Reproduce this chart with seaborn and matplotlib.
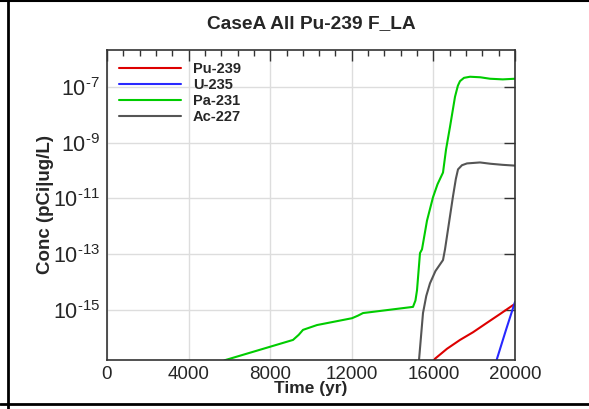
import pandas as pd
import matplotlib
matplotlib.use("Agg")
import matplotlib.pyplot as plt
import seaborn as sns
from matplotlib.ticker import MultipleLocator, FixedLocator, FixedFormatter, NullLocator

sns.set_style("white")
plt.rcParams['font.family'] = ['Liberation Sans', 'DejaVu Sans']
plt.rcParams['mathtext.fontset'] = 'custom'
plt.rcParams['mathtext.rm'] = 'Liberation Sans'
plt.rcParams['mathtext.it'] = 'Liberation Sans'
plt.rcParams['axes.unicode_minus'] = False

# values (time in yr, concentration)
pu239_t = [15900, 16078, 16667, 17304, 17941, 18627, 19265, 19902, 20000]
pu239_c = [1.1e-17, 1.8e-17, 4.1e-17, 8.5e-17, 1.6e-16, 3.5e-16, 7.2e-16, 1.5e-15, 1.6e-15]

u235_t = [19050, 19118, 19559, 20000]
u235_c = [1.1e-17, 1.8e-17, 1.95e-16, 1.95e-15]

pa231_t = [5500, 5784, 9118, 9400, 9608, 10294, 12010, 12300, 12549, 15000, 15120, 15196,
           15343, 15441, 15686, 15980, 16200, 16471, 16618, 16814, 17059, 17200, 17304,
           17500, 17794, 18300, 18775, 19400, 20000]
pa231_c = [1.2e-17, 1.6e-17, 8.5e-17, 1.3e-16, 1.95e-16, 2.9e-16, 5.1e-16, 6.3e-16, 7.8e-16,
           1.3e-15, 2.2e-15, 5.1e-15, 1.1e-13, 1.5e-13, 1.6e-12, 1.1e-11, 3.2e-11, 8.5e-11,
           5.6e-10, 3.7e-09, 4.4e-08, 1.1e-07, 1.6e-07, 2.1e-07, 2.3e-07, 2.2e-07,
           1.95e-07, 1.85e-07, 1.95e-07]

ac227_t = [15200, 15294, 15490, 15650, 15833, 16100, 16471, 16569, 16961, 17100, 17206,
           17400, 17647, 18284, 18800, 19400, 20000]
ac227_c = [1.0e-17, 1.6e-17, 7.8e-16, 3.2e-15, 9.1e-15, 2.5e-14, 6.2e-14, 1.5e-13, 1.2e-11,
           5.0e-11, 1.1e-10, 1.55e-10, 1.8e-10, 1.95e-10, 1.75e-10, 1.6e-10, 1.5e-10]

ytick_vals = [1e-15, 1e-13, 1e-11, 1e-9, 1e-7]
ytick_labels = [r'$\mathdefault{10^{\text{-15}}}$', r'$\mathdefault{10^{\text{-13}}}$',
                r'$\mathdefault{10^{\text{-11}}}$', r'$\mathdefault{10^{\text{-9}}}$',
                r'$\mathdefault{10^{\text{-7}}}$']

series = {'Pu-239': (pu239_t, pu239_c), 'U-235': (u235_t, u235_c),
          'Pa-231': (pa231_t, pa231_c), 'Ac-227': (ac227_t, ac227_c)}
frames = [pd.DataFrame({'Time': t, 'Conc': c, 'Nuclide': k}) for k, (t, c) in series.items()]
df = pd.concat(frames, ignore_index=True)

palette = {'Pu-239': '#dd0000', 'U-235': '#2828ff', 'Pa-231': '#00cc00', 'Ac-227': '#555555'}

fig = plt.figure(figsize=(5.89, 4.09), dpi=100)
ax = fig.add_axes([107 / 589, 1 - 360 / 409, 408 / 589, 310 / 409])
sns.lineplot(data=df, x='Time', y='Conc', hue='Nuclide', palette=palette,
             linewidth=1.5, sort=False, estimator=None, ax=ax)

ax.set_yscale('log')
ax.set_xlim(0, 20000)
ax.set_ylim(10 ** -16.79, 10 ** -5.68)
ax.xaxis.set_major_locator(MultipleLocator(4000))
ax.xaxis.set_minor_locator(MultipleLocator(800))
ax.yaxis.set_major_locator(FixedLocator(ytick_vals))
ax.yaxis.set_major_formatter(FixedFormatter(ytick_labels))
ax.yaxis.set_minor_locator(NullLocator())
ax.tick_params(axis='both', which='both', direction='in', top=True, right=True,
               color='#333333')
ax.tick_params(axis='x', which='major', length=8, width=1, labelsize=13.5, pad=4)
ax.tick_params(axis='x', which='minor', length=4, width=1)
ax.tick_params(axis='y', which='major', length=8, width=1, labelsize=15.5, pad=5)
ax.grid(True, which='major', color='#dddddd', linewidth=1)
for s in ax.spines.values():
    s.set_color('#333333')
    s.set_linewidth(1.2)

ax.set_title('CaseA All Pu-239 F_LA', fontsize=13.8, fontweight='bold', pad=16)
ax.set_xlabel('Time (yr)', fontsize=12.5, fontweight='bold', labelpad=-1)
ax.set_ylabel('Conc (pCi|ug/L)', fontsize=13.5, fontweight='bold', labelpad=-1)

leg = ax.legend(loc='upper left', frameon=False, prop={'weight': 'bold', 'size': 10.5},
                handlelength=4.3, handletextpad=0.8, labelspacing=0.15,
                borderaxespad=0.4, bbox_to_anchor=(0.0, 1.0))
for line in leg.get_lines():
    line.set_linewidth(1.5)

# outer frame lines around the figure
fig.add_artist(plt.Line2D([0, 1], [1 - 0.5 / 409, 1 - 0.5 / 409], transform=fig.transFigure,
                          color='black', linewidth=1.5))
fig.add_artist(plt.Line2D([0, 1], [1 - 404 / 409, 1 - 404 / 409], transform=fig.transFigure,
                          color='black', linewidth=2))
fig.add_artist(plt.Line2D([8 / 589, 8 / 589], [0, 1], transform=fig.transFigure,
                          color='black', linewidth=2))

fig.savefig('out.png', dpi=100)
